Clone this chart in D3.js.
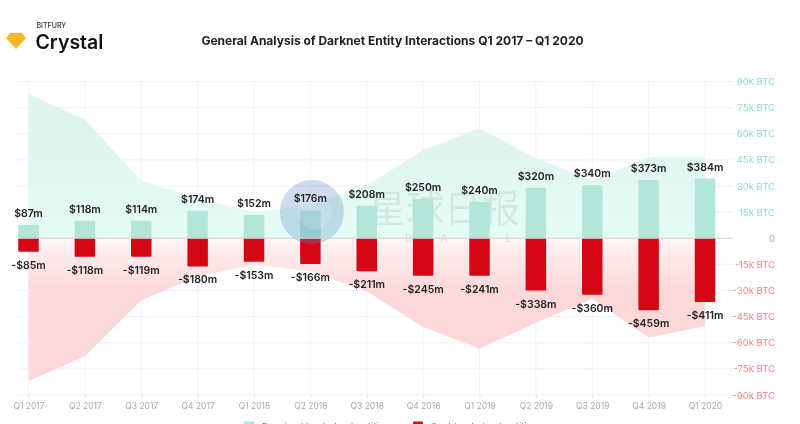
<!DOCTYPE html>
<html>
<head>
<meta charset="utf-8">
<script src="https://cdn.jsdelivr.net/npm/d3@7"></script>
<style>
  html, body { margin: 0; padding: 0; background: #fff; overflow: hidden; }
  svg { display: block; filter: blur(0.35px); }
  text { font-family: Inter, "Noto Sans", sans-serif; }
</style>
</head>
<body>
<svg id="chart" width="800" height="424"></svg>
<script>
'use strict'

// quarters and labels
var quarters = ['Q1 2017','Q2 2017','Q3 2017','Q4 2017','Q1 2018','Q2 2018','Q3 2018','Q4 2018','Q1 2019','Q2 2019','Q3 2019','Q4 2019','Q1 2020']
var receivedLabels = ['$87m','$118m','$114m','$174m','$152m','$176m','$208m','$250m','$240m','$320m','$340m','$373m','$384m']
var sentLabels = ['-$85m','-$118m','-$119m','-$180m','-$153m','-$166m','-$211m','-$245m','-$241m','-$338m','-$360m','-$459m','-$411m']

// bars, thousands of BTC
var receivedBtc = [7.7,10,10,15.8,13.5,16,18.6,22.6,21,29,30.5,33.5,34.3]
var sentBtc = [-7.7,-10.6,-10.6,-16.2,-13.5,-14.8,-19,-21.5,-21.5,-30,-32.5,-41.4,-36.6]

// background areas, thousands of BTC
var receivedArea = [82.8,68,33,23,15,19,30.5,50.5,63,46,33,46.5,46.5]
var sentArea = [-82,-67.7,-35.6,-22,-15,-19,-30.5,-51,-63.5,-48.5,-34.7,-57,-50.5]

var yTicks = [90,75,60,45,30,15,0,-15,-30,-45,-60,-75,-90]

var svg = d3.select('#chart')

var x = d3.scalePoint().domain(quarters).range([28.5, 705])
var y = d3.scaleLinear().domain([-90, 90]).range([395, 81.5])
var barWidth = 20.5

var defs = svg.append('defs')
function gradient(id, y1, y2, c1, c2){
  var g = defs.append('linearGradient')
    .attr('id', id)
    .attr('gradientUnits', 'userSpaceOnUse')
    .attr('x1', 0).attr('x2', 0)
    .attr('y1', y1).attr('y2', y2)
  g.append('stop').attr('offset', 0).attr('stop-color', c1)
  g.append('stop').attr('offset', 1).attr('stop-color', c2)
}
gradient('greenFade', y(60), y(0), '#e0f4ee', '#e6fcf7')
gradient('redFade', y(0), y(-30), '#fff4f4', '#fcd8d8')

// grid
svg.append('g')
  .selectAll('line')
  .data(yTicks.filter(d => d != 0))
  .enter().append('line')
    .attr('x1', 18).attr('x2', 733)
    .attr('y1', d => y(d)).attr('y2', d => y(d))
    .attr('stroke', '#f0f0f0')
svg.append('g')
  .selectAll('line')
  .data(quarters)
  .enter().append('line')
    .attr('x1', d => x(d)).attr('x2', d => x(d))
    .attr('y1', y(90)).attr('y2', y(-90))
    .attr('stroke', '#f3f3f3')

// areas
var area = d3.area()
  .x((d, i) => x(quarters[i]))
  .y0(y(0))
  .y1(d => y(d))
svg.append('path').attr('d', area(receivedArea)).attr('fill', 'url(#greenFade)')
svg.append('path').attr('d', area(sentArea)).attr('fill', 'url(#redFade)')

// watermark under the bars
var mark = svg.append('g')
mark.append('text')
  .attr('x', 368).attr('y', 222)
  .style('font-family', '"Noto Sans CJK SC"')
  .style('font-size', '38px')
  .attr('font-weight', 400)
  .attr('fill', '#000').attr('fill-opacity', 0.07)
  .text('星球日报')
mark.append('text')
  .attr('x', 370).attr('y', 242)
  .style('font-size', '10px')
  .attr('letter-spacing', 28)
  .attr('fill', '#000').attr('fill-opacity', 0.12)
  .text('CDAILY')

// bars
svg.append('g')
  .selectAll('rect')
  .data(receivedBtc)
  .enter().append('rect')
    .attr('x', (d, i) => x(quarters[i]) - barWidth / 2)
    .attr('y', d => y(d))
    .attr('width', barWidth)
    .attr('height', d => y(0) - y(d))
    .attr('rx', 1)
    .attr('fill', '#b1e6d8')
svg.append('g')
  .selectAll('rect')
  .data(sentBtc)
  .enter().append('rect')
    .attr('x', (d, i) => x(quarters[i]) - barWidth / 2)
    .attr('y', y(0))
    .attr('width', barWidth)
    .attr('height', d => y(d) - y(0))
    .attr('rx', 1)
    .attr('fill', '#d40714')

// blue logo over the Q2 2018 bar
svg.append('circle')
  .attr('cx', x('Q2 2018') + 1.5).attr('cy', 212).attr('r', 32)
  .attr('fill', '#5b8fc4').attr('fill-opacity', 0.3)
svg.append('circle')
  .attr('cx', x('Q2 2018') + 5).attr('cy', 212).attr('r', 17)
  .attr('fill', '#fff').attr('fill-opacity', 0.15)

// zero line
svg.append('line')
  .attr('x1', 18).attr('x2', 733)
  .attr('y1', y(0)).attr('y2', y(0))
  .attr('stroke', '#cfcfcf').attr('stroke-width', 1.2)

// value labels
svg.append('g')
  .selectAll('text')
  .data(receivedLabels)
  .enter().append('text')
    .attr('x', (d, i) => x(quarters[i]))
    .attr('y', (d, i) => y(receivedBtc[i]) - 8)
    .attr('text-anchor', 'middle')
    .style('font-size', '10.5px').style('font-weight', 600)
    .attr('fill', '#222')
    .text(d => d)
svg.append('g')
  .selectAll('text')
  .data(sentLabels)
  .enter().append('text')
    .attr('x', (d, i) => x(quarters[i]))
    .attr('y', (d, i) => y(sentBtc[i]) + 17)
    .attr('text-anchor', 'middle')
    .style('font-size', '10.5px').style('font-weight', 600)
    .attr('fill', '#222')
    .text(d => d)

// axes
var xAxis = svg.append('g')
  .attr('transform', 'translate(0,' + y(-90) + ')')
  .call(d3.axisBottom(x).tickSize(3).tickPadding(5))
xAxis.select('.domain').remove()
xAxis.selectAll('line').attr('stroke', '#ddd')
xAxis.selectAll('text').style('font-size', '8.5px').style('font-family', 'Inter').attr('fill', '#aaa')

var yAxis = svg.append('g')
  .attr('transform', 'translate(775,0)')
  .call(d3.axisLeft(y).tickValues(yTicks).tickSize(0).tickPadding(0)
    .tickFormat(d => d == 0 ? '0' : d + 'k BTC'))
yAxis.select('.domain').remove()
yAxis.selectAll('text')
  .style('font-size', '9.5px').style('font-family', 'Inter')
  .attr('fill', d => d > 0 ? '#8adfc4' : d < 0 ? '#f28585' : '#aaa')

// title
svg.append('text')
  .attr('x', 392.5).attr('y', 45)
  .attr('text-anchor', 'middle')
  .style('font-size', '12px').style('font-weight', 700)
  .attr('fill', '#222')
  .text('General Analysis of Darknet Entity Interactions Q1 2017 – Q1 2020')

// logo
svg.append('path')
  .attr('d', d3.line()([[10,33],[22,33],[26,38],[16,49],[6,38]]) + 'Z')
  .attr('fill', '#fbb829')
svg.append('text')
  .attr('x', 36.5).attr('y', 27.5)
  .style('font-size', '7px').style('font-weight', 500)
  .attr('fill', '#333')
  .text('BITFURY')
svg.append('text')
  .attr('x', 35.5).attr('y', 48.5)
  .style('font-size', '19.5px').style('font-weight', 600)
  .attr('fill', '#111')
  .text('Crystal')

// legend, cut by the bottom edge in the source
var legendNames = ['Received by darknet entities', 'Sent by darknet entities']
var legendColors = ['#b1e6d8', '#d40714']
var legendX = d3.scaleOrdinal().domain(legendNames).range([244, 413])
var legend = svg.append('g').selectAll('g')
  .data(legendNames)
  .enter().append('g')
    .attr('transform', d => 'translate(' + legendX(d) + ',421.5)')
legend.append('rect')
  .attr('width', 10).attr('height', 10).attr('rx', 1)
  .attr('fill', (d, i) => legendColors[i])
legend.append('text')
  .attr('x', 18).attr('y', 8)
  .style('font-size', '9.5px')
  .attr('fill', '#888')
  .text(d => d)
</script>
</body>
</html>
